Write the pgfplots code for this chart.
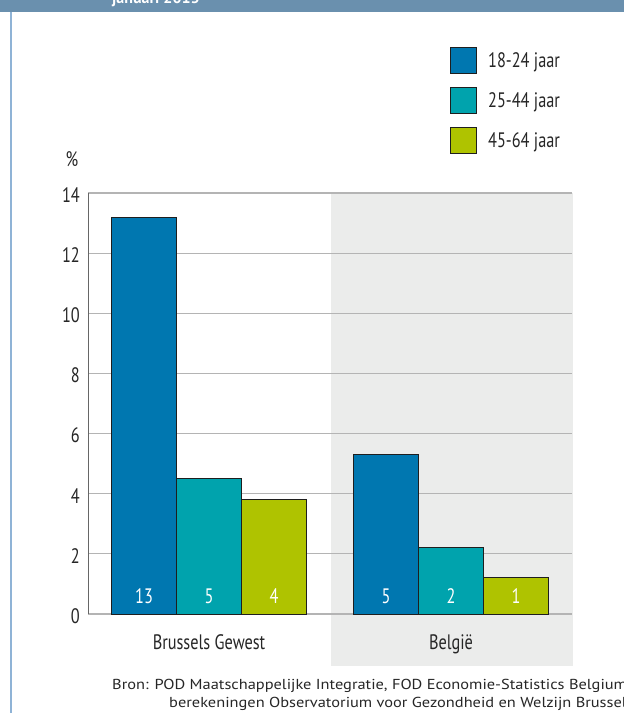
\documentclass[border=0pt]{standalone}
\usepackage{pgfplots}
\pgfplotsset{compat=1.18}
\usepackage{fontspec}
\setmainfont{PT Sans}
\newfontfamily\cond{PT Sans}[FakeStretch=0.78]
\newfontfamily\srcfont{PT Sans}[FakeStretch=1.135]

\definecolor{c1}{HTML}{0077B0}
\definecolor{c2}{HTML}{00A3AD}
\definecolor{c3}{HTML}{AFC300}
\definecolor{banner}{HTML}{6A90AE}
\definecolor{frame}{HTML}{8FB3D6}
\definecolor{panel}{HTML}{EBECEB}
\definecolor{gridc}{HTML}{B4B4B4}
\definecolor{barline}{HTML}{1E1E1E}

\newcommand\chartfont{\cond\fontsize{21}{24}\selectfont}

\begin{document}
\begin{tikzpicture}[x=1bp,y=1bp]
\path[use as bounding box] (0,0) rectangle (624,713);
% header band and frame line
\fill[banner] (0,701) rectangle (624,713);
\node[anchor=base west, text=white, font=\bfseries\fontsize{16}{18}\selectfont, inner sep=0pt] at (112,709) {januari 2013};
\draw[frame, line width=1.5bp] (10.75,0) -- (10.75,701);
% shaded panel behind the Belgium group
\fill[panel] (331,47) rectangle (573,520);

\begin{axis}[
  at={(88bp,99bp)}, anchor=south west,
  scale only axis, width=484bp, height=421bp,
  clip=false,
  ymin=0, ymax=14, xmin=-0.5, xmax=1.5,
  ytick={0,2,...,14},
  xtick={0,1}, xticklabels={Brussels Gewest, België},
  ybar=0pt, bar width=65bp,
  axis x line*=bottom, axis y line*=left,
  axis line style={-},
  x axis line style={draw=gridc, line width=1.2bp},
  y axis line style={draw=black!60, line width=1bp},
  major tick length=0pt,
  ymajorgrids, grid style={draw=gridc, line width=1.2bp},
  /pgf/number format/assume math mode=true,
  ticklabel style={font=\chartfont, text=black!85},
  yticklabel style={inner sep=0pt, xshift=-8bp, yshift=-2bp},
  xticklabel style={anchor=base, inner sep=0pt, yshift=-36bp},
  nodes near coords={\pgfmathprintnumber[fixed,precision=0]{\pgfplotspointmeta}},
  visualization depends on={rawy \as \rawy},
  every node near coord/.append style={anchor=base,
     yshift={10bp-\rawy*30.0714bp}, text=white, font=\chartfont, inner sep=0pt},
  legend image code/.code={\draw[#1, draw=barline, line width=0.9bp] (0bp,-13bp) rectangle (26bp,13bp);},
  legend style={at={(0.748,1.347)}, anchor=north west, draw=none, fill=none,
     inner sep=0pt, row sep=13bp, font=\chartfont, text=black!85,
     /tikz/every odd column/.append style={column sep=9bp}},
  legend cell align=left,
]
\addplot[fill=c1, draw=barline, line width=0.9bp] coordinates {(0,13.2) (1,5.3)};
\addplot[fill=c2, draw=barline, line width=0.9bp] coordinates {(0,4.5) (1,2.2)};
\addplot[fill=c3, draw=barline, line width=0.9bp] coordinates {(0,3.8) (1,1.2)};
\legend{18-24 jaar, 25-44 jaar, 45-64 jaar}
\end{axis}

\node[font=\chartfont, text=black!85] at (72,554) {\%};
% source lines
\node[anchor=base west, inner sep=0pt, font=\srcfont\fontsize{14.5}{17}\selectfont, text=black!85] at (112,23) {Bron: POD Maatschappelijke Integratie, FOD Economie-Statistics Belgium,};
\node[anchor=base west, inner sep=0pt, font=\srcfont\fontsize{14.5}{17}\selectfont, text=black!85] at (169,5) {berekeningen Observatorium voor Gezondheid en Welzijn Brussel};
\end{tikzpicture}
\end{document}
